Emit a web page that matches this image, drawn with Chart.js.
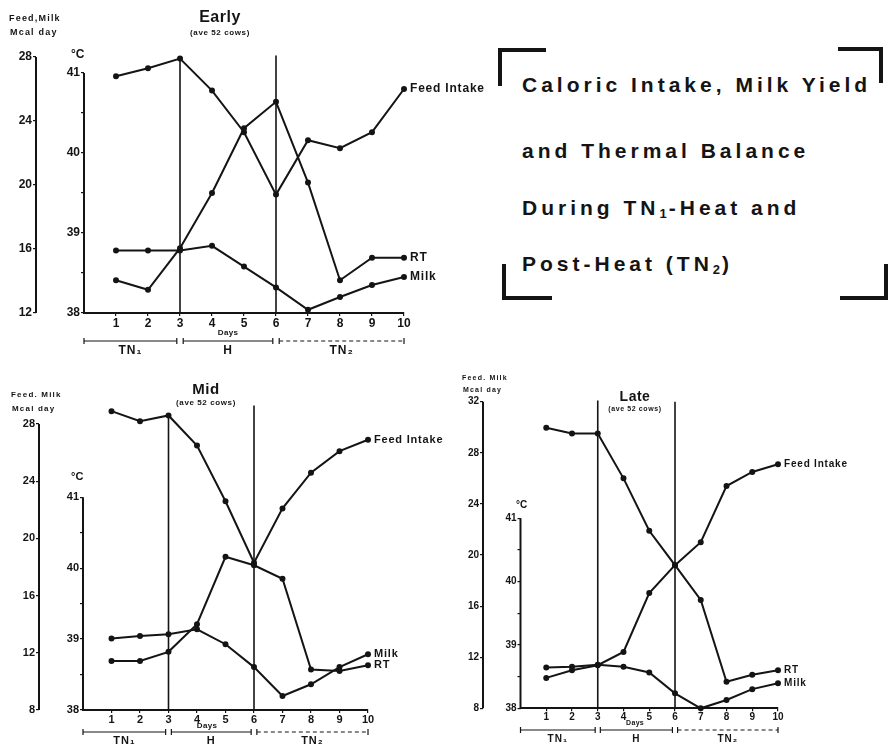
<!DOCTYPE html>
<html>
<head>
<meta charset="utf-8">
<script src="https://cdn.jsdelivr.net/npm/chart.js@4.4.1/dist/chart.umd.min.js"></script>
<style>
  body { margin: 0; background: #fff; }
  #wrap { position: relative; width: 890px; height: 749px; overflow: hidden; background: #fff; }
  canvas { position: absolute; }
  .ttl { position: absolute; left: 522px; font: bold 21px "Liberation Sans", Arial, sans-serif;
         letter-spacing: 4px; line-height: 21px; color: #141414; white-space: nowrap; }
  .ttl sub { font-size: 13px; vertical-align: -3px; letter-spacing: 2px; }
  .br { position: absolute; background: #141414; }
</style>
</head>
<body>
<div id="wrap">
  <canvas id="cEarly" width="490" height="370" style="left:0;top:0"></canvas>
  <canvas id="cMid" width="450" height="369" style="left:0;top:380px"></canvas>
  <canvas id="cLate" width="440" height="379" style="left:450px;top:370px"></canvas>

  <div class="ttl" style="top:74px">Caloric Intake, Milk Yield</div>
  <div class="ttl" style="top:140px">and Thermal Balance</div>
  <div class="ttl" style="top:197px">During TN<sub>1</sub>-Heat and</div>
  <div class="ttl" style="top:253px">Post-Heat (TN<sub>2</sub>)</div>

  <div class="br" style="left:498px;top:48px;width:48px;height:4px"></div>
  <div class="br" style="left:498px;top:48px;width:4px;height:38px"></div>
  <div class="br" style="left:838px;top:47px;width:45px;height:4px"></div>
  <div class="br" style="left:879px;top:47px;width:4px;height:36px"></div>
  <div class="br" style="left:502px;top:264px;width:4px;height:36px"></div>
  <div class="br" style="left:502px;top:296px;width:50px;height:4px"></div>
  <div class="br" style="left:884px;top:264px;width:4px;height:36px"></div>
  <div class="br" style="left:840px;top:296px;width:48px;height:4px"></div>
</div>
<script>
// days of the trial; heat stress from day 3 to day 6
const days = [1, 2, 3, 4, 5, 6, 7, 8, 9, 10];
const heatStart = 3;
const heatEnd = 6;
const periods = ['TN₁', 'H', 'TN₂'];
const periodSpans = [[0, 2.9], [3.1, 5.9], [6.1, 10]];

// Early lactation (Mcal/day and °C)
const earlyFeed = [26.8, 27.3, 27.9, 25.9, 23.3, 19.4, 22.8, 22.3, 23.3, 26.0];
const earlyRT   = [38.41, 38.29, 38.81, 39.5, 40.31, 40.64, 39.63, 38.41, 38.69, 38.69];
const earlyMilk = [15.9, 15.9, 15.9, 16.2, 14.9, 13.6, 12.2, 13.0, 13.75, 14.25];

// Mid lactation
const midFeed = [28.9, 28.2, 28.6, 26.5, 22.6, 18.3, 22.1, 24.6, 26.1, 26.9];
const midRT   = [38.69, 38.69, 38.82, 39.21, 40.16, 40.04, 39.85, 38.57, 38.55, 38.63];
const midMilk = [13.0, 13.17, 13.3, 13.64, 12.6, 11.0, 8.98, 9.8, 11.0, 11.9];

// Late lactation
const lateFeed = [29.96, 29.52, 29.52, 26.0, 21.9, 19.2, 21.0, 25.4, 26.5, 27.1];
const lateRT   = [38.48, 38.6, 38.68, 38.89, 39.82, 40.26, 39.71, 38.42, 38.53, 38.6];
const lateMilk = [11.2, 11.25, 11.4, 11.25, 10.8, 9.17, 8.0, 8.65, 9.5, 9.96];

const tempTicks = [38, 38.5, 39, 39.5, 40, 40.5, 41];
const ink = '#141414';
const FAM = '"Liberation Sans", Arial, sans-serif';

function panel(id, o) {
  const series = (label, vals, axis) => ({
    label: label,
    data: days.map((d, i) => ({ x: d, y: vals[i] })),
    yAxisID: axis,
    borderColor: ink,
    backgroundColor: ink,
    borderWidth: 2,
    pointRadius: 2,
    pointHoverRadius: 2,
    tension: 0,
    clip: false
  });

  const txt = (ctx, s, x, y, size, align, spacing, weight) => {
    ctx.font = (weight || 'bold') + ' ' + size + 'px ' + FAM;
    ctx.textAlign = align || 'left';
    ctx.textBaseline = 'middle';
    ctx.letterSpacing = (spacing || 0) + 'px';
    ctx.fillText(s, x, y);
  };

  const deco = {
    id: 'deco',
    afterDraw(chart) {
      const { ctx, chartArea: a, scales: { x, feed, temp } } = chart;
      ctx.save();
      ctx.strokeStyle = ink;
      ctx.fillStyle = ink;
      const seg = (x1, y1, x2, y2) => { ctx.beginPath(); ctx.moveTo(x1, y1); ctx.lineTo(x2, y2); ctx.stroke(); };

      // the two value axes stop at their last labelled tick
      ctx.lineWidth = 2;
      seg(feed.right, feed.getPixelForValue(o.feedMin), feed.right, feed.getPixelForValue(o.feedAxisTop));
      seg(temp.right, temp.getPixelForValue(38), temp.right, temp.getPixelForValue(41));

      // start and end of heat
      ctx.lineWidth = 1.6;
      [heatStart, heatEnd].forEach((d, i) => {
        const px = x.getPixelForValue(d);
        seg(px, a.bottom, px, feed.getPixelForValue(o.vTop[i]));
      });

      // axis headers and titles
      txt(ctx, o.hdr1, o.hdrX, o.hdrY, o.hdrSize, 'left', 1.2);
      txt(ctx, 'Mcal day', o.hdrX + 1, o.hdrY + o.hdrGap, o.hdrSize, 'left', 1.2);
      txt(ctx, '°C', o.degX, o.degY, o.tick, 'left', 0);
      txt(ctx, o.title, o.titleX, o.titleY, o.titleSize, 'center', 0.5);
      txt(ctx, '(ave 52 cows)', o.titleX, o.subY, o.subSize, 'center', 0.6);

      // series names at line ends
      const names = ['Feed Intake', 'RT', 'Milk'];
      names.forEach((n, i) => {
        const pts = chart.getDatasetMeta(i).data;
        const p = pts[pts.length - 1];
        txt(ctx, n, p.x + 6, p.y, o.lab, 'left', 0.8);
      });

      // "Days" and period brackets
      txt(ctx, 'Days', x.getPixelForValue(o.daysAt), o.daysY, o.subSize, 'center', 0.3);
      ctx.lineWidth = 1.2;
      periodSpans.forEach((s, i) => {
        const x1 = x.getPixelForValue(s[0]);
        const x2 = x.getPixelForValue(s[1]);
        ctx.setLineDash(i === 2 ? [4, 3] : []);
        seg(x1, o.brY, x2, o.brY);
        ctx.setLineDash([]);
        seg(x1, o.brY - 3, x1, o.brY + 3);
        seg(x2, o.brY - 3, x2, o.brY + 3);
        txt(ctx, periods[i], (x1 + x2) / 2, o.perY, o.tick, 'center', 1);
      });
      ctx.restore();
    }
  };

  const tickFont = { family: FAM, size: o.tick, weight: 'bold' };
  const grid = { drawOnChartArea: false, drawTicks: true, tickLength: 3, color: ink, lineWidth: 1.2 };

  return new Chart(document.getElementById(id), {
    type: 'line',
    data: {
      datasets: [
        series('Feed Intake', o.feed, 'feed'),
        series('RT', o.rt, 'temp'),
        series('Milk', o.milk, 'feed')
      ]
    },
    options: {
      responsive: false,
      animation: false,
      events: [],
      layout: { padding: { left: 0, top: o.top, right: o.right, bottom: o.bottom } },
      plugins: { legend: { display: false }, tooltip: { enabled: false } },
      scales: {
        x: {
          type: 'linear', min: 0, max: 10,
          afterBuildTicks: s => { s.ticks = days.map(v => ({ value: v })); },
          afterFit: s => { s.height = 24; },
          grid: grid,
          border: { display: true, color: ink, width: 2 },
          ticks: { color: ink, font: tickFont, padding: 0, maxRotation: 0, autoSkip: false }
        },
        feed: {
          type: 'linear', position: 'left', weight: 2, min: o.feedMin, max: o.feedMax,
          afterBuildTicks: s => { s.ticks = o.feedTicks.map(v => ({ value: v })); },
          afterFit: s => { s.width = o.w1; },
          grid: grid,
          border: { display: false },
          ticks: { color: ink, font: tickFont, padding: 1 }
        },
        temp: {
          type: 'linear', position: 'left', weight: 1, min: 38, max: o.tempMax,
          afterBuildTicks: s => { s.ticks = tempTicks.map(v => ({ value: v })); },
          afterFit: s => { s.width = o.w2; },
          grid: grid,
          border: { display: false },
          ticks: { color: ink, font: tickFont, padding: 1, callback: v => Number.isInteger(v) ? String(v) : '' }
        }
      }
    },
    plugins: [deco]
  });
}

panel('cEarly', {
  feed: earlyFeed, rt: earlyRT, milk: earlyMilk,
  feedMin: 12, feedMax: 28, feedAxisTop: 28, feedTicks: [12, 16, 20, 24, 28], tempMax: 41.2,
  w1: 36, w2: 48, top: 57, right: 86, bottom: 33,
  vTop: [27.9, 28.1], tick: 12, lab: 12,
  hdr1: 'Feed,Milk', hdrX: 9, hdrY: 19, hdrGap: 14, hdrSize: 9,
  degX: 71, degY: 55,
  title: 'Early', titleX: 220, titleY: 18, titleSize: 16, subY: 33, subSize: 8,
  daysAt: 4.5, daysY: 333, brY: 341, perY: 351
});

panel('cMid', {
  feed: midFeed, rt: midRT, milk: midMilk,
  feedMin: 8, feedMax: 29.68, feedAxisTop: 28, feedTicks: [8, 12, 16, 20, 24, 28], tempMax: 42.37,
  w1: 39, w2: 44, top: 20, right: 82, bottom: 15,
  vTop: [28.7, 29.3], tick: 11, lab: 11,
  hdr1: 'Feed. Milk', hdrX: 11, hdrY: 15, hdrGap: 14, hdrSize: 8,
  degX: 71, degY: 97,
  title: 'Mid', titleX: 206, titleY: 10, titleSize: 15, subY: 23, subSize: 8,
  daysAt: 4.35, daysY: 346, brY: 352, perY: 361
});

panel('cLate', {
  feed: lateFeed, rt: lateRT, milk: lateMilk,
  feedMin: 8, feedMax: 32, feedAxisTop: 32, feedTicks: [8, 12, 16, 20, 24, 28, 32], tempMax: 42.84,
  w1: 33, w2: 37.5, top: 31.7, right: 112, bottom: 16.7,
  vTop: [32.1, 32.0], tick: 10, lab: 10,
  hdr1: 'Feed. Milk', hdrX: 12, hdrY: 8, hdrGap: 12, hdrSize: 7,
  degX: 66, degY: 135,
  title: 'Late', titleX: 185, titleY: 27, titleSize: 14, subY: 39, subSize: 7,
  daysAt: 4.45, daysY: 353, brY: 360, perY: 369
});
</script>
</body>
</html>
